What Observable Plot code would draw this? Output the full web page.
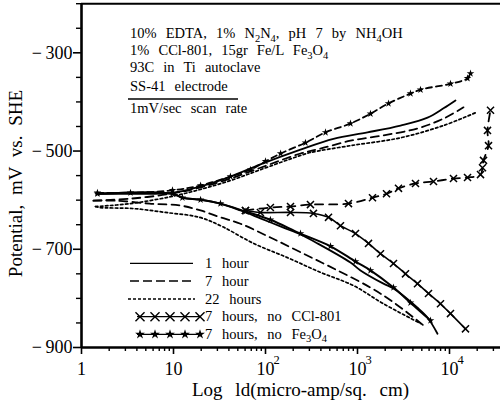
<!DOCTYPE html>
<html><head><meta charset="utf-8">
<script src="https://cdn.jsdelivr.net/npm/d3@7"></script>
<script src="https://cdn.jsdelivr.net/npm/@observablehq/plot@0.6"></script>
<style>body{margin:0;background:#fff} svg{display:block}</style>
</head><body><div id="chart"></div>
<script>
// ---- Data: [current density (micro-amp/sq. cm), potential (mV vs SHE)] ----
const oneHourAnodic = [[1.46,-587],[3.4,-587],[9.75,-585],[19.7,-572],[41.6,-552],[88,-527],[240,-497],[548,-475],[1284,-462],[2934,-448],[5768,-432],[8607,-413],[11620,-397]];
const oneHourCathodic = [[1.46,-587],[9.75,-587],[12.5,-595],[19.7,-599],[32.4,-607],[53.5,-621],[88,-637],[157,-656],[240,-670],[367,-688],[839,-727],[1078,-743],[1917,-770],[2462,-780],[4489,-819],[5768,-839],[7406,-872]];
const sevenHourAnodic = [[1.35,-601],[3.41,-597],[9.28,-587],[19.7,-574],[41.6,-556],[88,-534],[240,-505],[396,-495],[839,-479],[1917,-468],[4489,-454],[8607,-434],[14200,-411]];
const sevenHourCathodic = [[1.35,-601],[2.34,-601],[5.48,-607],[11.9,-611],[19.7,-621],[32.4,-635],[53.5,-648],[113,-676],[259,-709],[606,-743],[1384,-778],[2462,-808],[5217,-855]];
const twentyTwoAnodic = [[1.42,-613],[3.41,-607],[9.28,-593],[19.7,-578],[41.6,-560],[88,-538],[240,-509],[308,-503],[839,-489],[2934,-473],[8607,-448],[19170,-422]];
const twentyTwoCathodic = [[1.42,-613],[1.57,-615],[3.58,-617],[8.19,-625],[19.2,-635],[34.1,-654],[74.1,-688],[173,-717],[396,-747],[905,-774],[1917,-811],[4840,-851]];
const noCclAnodic = [[60.6,-621],[113,-615],[187,-613],[308,-609],[798,-607],[1455,-595],[2067,-587],[2790,-576],[4270,-566],[6700,-562],[11050,-556],[15700,-554],[21730,-548],[22840,-534],[23420,-519],[26550,-489],[25880,-458],[27910,-417]];
const noCclCathodic = [[60.6,-621],[88,-625],[187,-625],[332,-627],[484,-635],[653,-652],[951,-668],[1317,-688],[1778,-709],[2462,-729],[3324,-750],[4489,-770],[5911,-790],[7984,-811],[10250,-831],[14920,-862]];
const noFeAnodic = [[1.49,-585],[3.41,-585],[9.75,-580],[19.7,-570],[41.6,-552],[68.7,-538],[100,-521],[146,-505],[272,-483],[449,-462],[839,-444],[1384,-424],[2173,-403],[3768,-383],[4840,-375],[10250,-363],[15700,-352],[16920,-342]];
const noFeCathodic = [[1.49,-587],[9.75,-587],[12.5,-595],[19.7,-599],[32.4,-607],[60.6,-623],[113,-640],[240,-668],[509,-694],[951,-725],[1384,-743],[2462,-778],[3768,-809],[6216,-845]];

const seriesNames = ["1 hour","7 hour","22 hours","7 hours, no CCl-801","7 hours, no Fe3O4"];
const noteLines = ["10% EDTA, 1% N2N4, pH 7 by NH4OH","1% CCl-801, 15gr Fe/L Fe3O4","93C in Ti autoclave","SS-41 electrode","1mV/sec scan rate"];
const yMajorTicks = [-300,-500,-700,-900];
const yMinorTicks = [-200,-250,-350,-400,-450,-550,-600,-650,-750,-800,-850];
const xMajorTicks = [1,10,100,1000,10000];
const xTickBase = ["1","10","10","10","10"];
const xTickExponent = ["","","2","3","4"];
const xMinorTicks = [2,3,4,5,6,7,8,9,20,30,40,50,60,70,80,90,200,300,400,500,600,700,800,900,2000,3000,4000,5000,6000,7000,8000,9000,20000,30000];
const xLabel = "Log ld(micro-amp/sq. cm)";
const yLabel = "Potential, mV vs. SHE";

// ---- Chart ----
const font = "Liberation Serif";
const branch = (pts, w, dash) => Plot.line(pts, {stroke:"black", strokeWidth:w, strokeDasharray:dash, curve:"catmull-rom"});
const supIdx = xMajorTicks.map((d,i)=>i).filter(i => xTickExponent[i] !== "");

const plot = Plot.plot({
  width: 500, height: 403,
  marginLeft: 81, marginRight: 0, marginTop: 3.2, marginBottom: 56,
  style: {fontFamily: font, background: "white", color: "black"},
  x: {type: "log", domain: [1, Math.pow(10, (500-81)/92)]},
  y: {domain: [-900, -200]},
  marks: [
    Plot.axisY({ticks: yMinorTicks, tickSize: 5, tickFormat: () => "", label: null, strokeWidth: 1.4}),
    Plot.axisY({ticks: yMajorTicks, tickSize: 8, tickPadding: 1, tickFormat: d => "\u2212\u2009" + Math.abs(d), label: null, fontSize: 18, strokeWidth: 1.6}),
    Plot.axisX({ticks: xMinorTicks, tickSize: 4, tickFormat: () => "", label: null, strokeWidth: 1.4}),
    Plot.axisX({ticks: xMajorTicks, tickSize: 7, tickPadding: 8, tickFormat: (d,i) => xTickBase[xMajorTicks.indexOf(d)], label: null, fontSize: 18, strokeWidth: 1.6}),
    Plot.text(supIdx, {x: i => xMajorTicks[i], text: i => xTickExponent[i], frameAnchor: "bottom", dx: 8, dy: 16, textAnchor: "start", fontSize: 12.5}),
    Plot.ruleX([1], {strokeWidth: 2.6}),
    Plot.ruleY([-900], {strokeWidth: 2.6}),
    Plot.ruleY([-200], {strokeWidth: 2}),
    branch(oneHourAnodic, 1.8, null),
    branch(oneHourCathodic, 1.8, null),
    branch(sevenHourAnodic, 1.8, "8,5"),
    branch(sevenHourCathodic, 1.8, "8,5"),
    branch(twentyTwoAnodic, 1.7, "2.5,2.5"),
    branch(twentyTwoCathodic, 1.7, "2.5,2.5"),
    branch(noCclAnodic, 1.8, "8,6"),
    branch(noCclCathodic, 1.6, null),
    Plot.dot(noCclAnodic, {symbol: "times", r: 3.3, stroke: "black", strokeWidth: 1.5}),
    Plot.dot(noCclCathodic, {symbol: "times", r: 3.3, stroke: "black", strokeWidth: 1.5}),
    branch(noFeAnodic, 1.8, "6,4"),
    branch(noFeCathodic, 2, null),
    Plot.dot(noFeAnodic, {symbol: "star", r: 2.4, fill: "black"}),
    Plot.dot(noFeCathodic, {symbol: "star", r: 2.4, fill: "black"})
  ]
});

// ---- Text helpers (subscripts for digits following a letter) ----
function rich(textSel, str, subSize) {
  const re = /([A-Za-z])(\d+)/g;
  let last = 0, m, shifted = false;
  const parts = [];
  while ((m = re.exec(str)) !== null) {
    const cut = m.index + 1;
    parts.push({t: str.slice(last, cut), sub: false});
    parts.push({t: m[2], sub: true});
    last = cut + m[2].length;
  }
  parts.push({t: str.slice(last), sub: false});
  parts.forEach(p => {
    if (!p.t) return;
    const ts = textSel.append("tspan").text(p.t);
    if (p.sub) { ts.attr("font-size", subSize).attr("dy", 3.5); shifted = true; }
    else if (shifted) { ts.attr("dy", -3.5); shifted = false; }
  });
}

const svg = d3.select(plot);
const ann = svg.append("g").attr("font-family", font).attr("fill", "black").attr("text-anchor", "start");

// notes block
const noteY = [38, 55, 72, 91, 113];
noteLines.forEach((s, i) => {
  const t = ann.append("text").attr("x", 130).attr("y", noteY[i]).attr("font-size", 14.5).attr("text-anchor", "start").style("word-spacing", "5.5px");
  rich(t, s, 10.5);
});
ann.append("line").attr("x1", 128).attr("x2", 238).attr("y1", 99).attr("y2", 99).attr("stroke", "black").attr("stroke-width", 1.3);

// legend
const legY = [263.3, 281, 299, 316.7, 334.3];
const legStyle = [
  {x1:130, x2:193, dash:null},
  {x1:130, x2:193, dash:"9,4"},
  {x1:128, x2:195, dash:"3,2"},
  {x1:137, x2:200, dash:null, sym: d3.symbolTimes},
  {x1:137, x2:200, dash:null, sym: d3.symbolStar}
];
seriesNames.forEach((name, i) => {
  const st = legStyle[i];
  ann.append("line").attr("x1", st.x1).attr("x2", st.x2).attr("y1", legY[i]).attr("y2", legY[i])
    .attr("stroke", "black").attr("stroke-width", 1.3).attr("stroke-dasharray", st.dash);
  if (st.sym) {
    [140,155,170,185,200].forEach(x => {
      const p = ann.append("path").attr("transform", `translate(${x},${legY[i]})`);
      if (st.sym === d3.symbolTimes) p.attr("d", d3.symbol(d3.symbolTimes, 55)()).attr("stroke", "black").attr("stroke-width", 1.4).attr("fill", "none");
      else p.attr("d", d3.symbol(d3.symbolStar, 30)()).attr("fill", "black");
    });
  }
  const t = ann.append("text").attr("x", 205).attr("y", legY[i] + 4.6).attr("font-size", 14.5).attr("text-anchor", "start").style("word-spacing", "6px");
  rich(t, name, 10.5);
});

// axis titles
ann.append("text").attr("x", 192).attr("y", 396).attr("font-size", 19).attr("text-anchor", "start").style("word-spacing", "8px").text(xLabel);
ann.append("text").attr("transform", "translate(22,183.5) rotate(-90)").attr("text-anchor", "middle")
  .attr("font-size", 19).style("word-spacing", "5px").text(yLabel);

document.getElementById("chart").appendChild(plot);
</script>
</body></html>
